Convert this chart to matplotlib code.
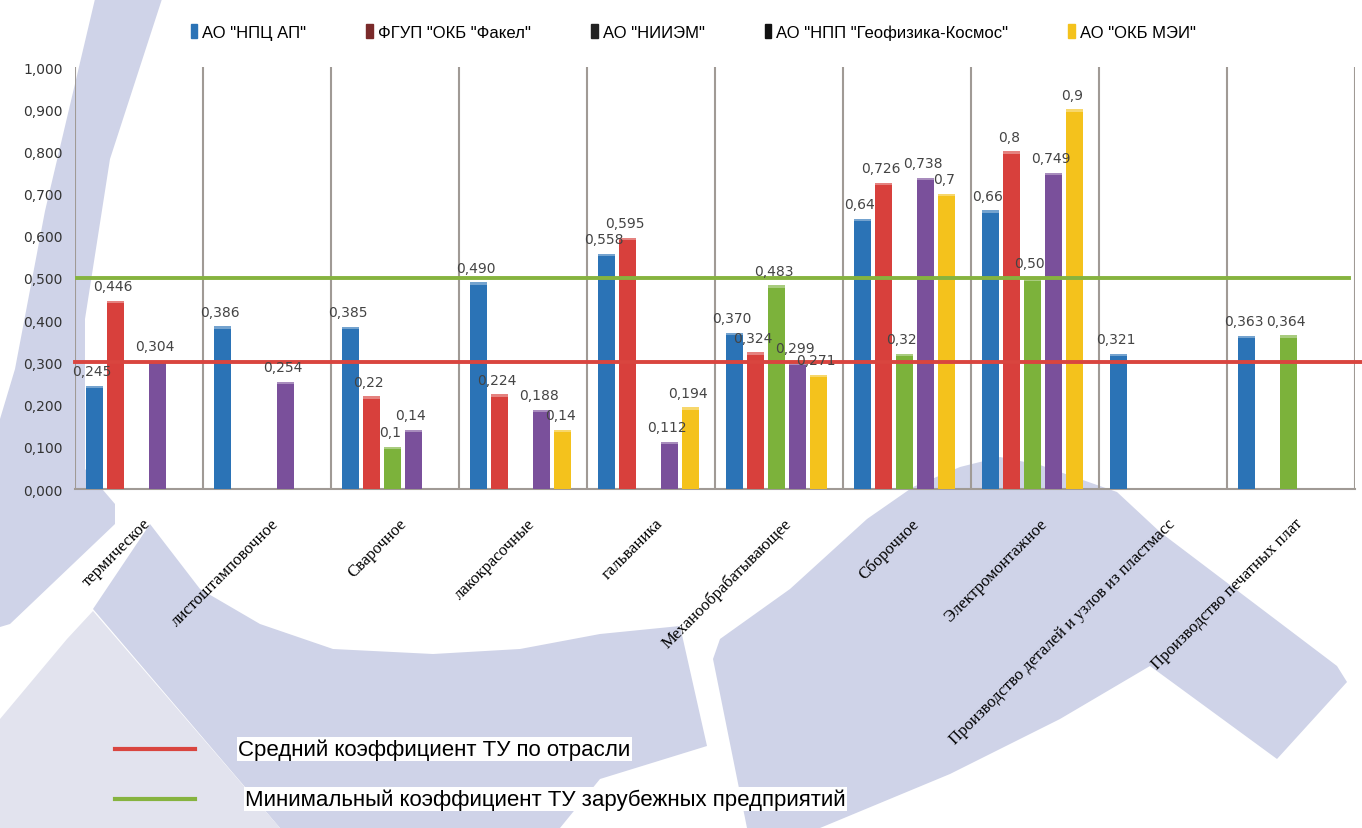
import numpy as np
import matplotlib.pyplot as plt
from matplotlib.patches import Polygon, Rectangle
from matplotlib.ticker import FuncFormatter
from matplotlib.lines import Line2D

# Категории (производства)
categories = ['термическое', 'листоштамповочное', 'Сварочное', 'лакокрасочные', 'гальваника',
              'Механообрабатывающее', 'Сборочное', 'Электромонтажное',
              'Производство деталей и узлов из пластмасс', 'Производство печатных плат']

companies = ['АО "НПЦ АП"', 'ФГУП "ОКБ "Факел"', 'АО "НИИЭМ"',
             'АО "НПП "Геофизика-Космос"', 'АО "ОКБ МЭИ"']
colors = ['#2b73b6', '#d8403c', '#7cb23b', '#7a509b', '#f4c21c']
legend_colors = ['#2b73b6', '#7a2a2a', '#222222', '#111111', '#f4c21c']

# Коэффициенты ТУ (None - нет данных)
npc_ap = [0.245, 0.386, 0.385, 0.490, 0.558, 0.370, 0.64, 0.66, 0.321, 0.363]
fakel = [0.446, None, 0.22, 0.224, 0.595, 0.324, 0.726, 0.8, None, None]
niiem = [None, None, 0.1, None, None, 0.483, 0.32, 0.50, None, 0.364]
geofizika = [0.304, 0.254, 0.14, 0.188, 0.112, 0.299, 0.738, 0.749, None, None]
okb_mei = [None, None, None, 0.14, 0.194, 0.271, 0.7, 0.9, None, None]

# Подписи значений в том виде, как на исходном рисунке
npc_ap_lbl = ['0,245', '0,386', '0,385', '0,490', '0,558', '0,370', '0,64', '0,66', '0,321', '0,363']
fakel_lbl = ['0,446', '', '0,22', '0,224', '0,595', '0,324', '0,726', '0,8', '', '']
niiem_lbl = ['', '', '0,1', '', '', '0,483', '0,32', '0,50', '', '0,364']
geofizika_lbl = ['0,304', '0,254', '0,14', '0,188', '0,112', '0,299', '0,738', '0,749', '', '']
okb_mei_lbl = ['', '', '', '0,14', '0,194', '0,271', '0,7', '0,9', '', '']

avg_level = 0.3   # средний коэффициент ТУ по отрасли
min_foreign = 0.5  # минимальный коэффициент ТУ зарубежных предприятий

series = [npc_ap, fakel, niiem, geofizika, okb_mei]
labels = [npc_ap_lbl, fakel_lbl, niiem_lbl, geofizika_lbl, okb_mei_lbl]

fig = plt.figure(figsize=(13.62, 8.29), dpi=100)

# светлый фоновый "водяной знак" (в пикселях картинки)
bg = fig.add_axes([0, 0, 1, 1], zorder=-5)
bg.set_xlim(0, 1362)
bg.set_ylim(829, 0)
bg.axis('off')
wm = '#cfd3e8'
shapes = [
    [(95, 0), (162, 0), (110, 160), (85, 320), (85, 470), (115, 505), (115, 525), (10, 625),
     (0, 628), (0, 420), (15, 370), (45, 212)],
    [(150, 525), (200, 590), (260, 625), (333, 650), (433, 655), (520, 650), (600, 635),
     (680, 627), (707, 747), (600, 780), (560, 829), (280, 829), (93, 610)],
    [(747, 829), (713, 660), (720, 640), (790, 590), (867, 520), (913, 488), (960, 468),
     (1000, 458), (1040, 466), (1117, 493), (1160, 533), (1337, 667), (1347, 683),
     (1277, 760), (1150, 667), (1060, 720), (950, 775), (820, 829)],
]
for pts in shapes:
    bg.add_patch(Polygon(pts, closed=True, facecolor=wm, edgecolor='none'))
bg.add_patch(Polygon([(67, 640), (0, 720), (0, 829), (280, 829), (93, 612)], closed=True,
                     facecolor='#e2e3ee', edgecolor='none'))

ax = fig.add_axes([75 / 1362, 1 - 490 / 829, 1280 / 1362, 422 / 829])
ax.set_facecolor('none')

n = len(categories)
x = np.arange(n)
step = 0.165
width = 0.135
offsets = (np.arange(5) - 2) * step - 0.02

for i, (vals, lbls) in enumerate(zip(series, labels)):
    for j, v in enumerate(vals):
        if v is None:
            continue
        xc = x[j] + offsets[i]
        ax.bar(xc, v, width=width, color=colors[i], zorder=3)
        ax.bar(xc, 0.006, bottom=v - 0.006, width=width, color='white', alpha=0.35, zorder=4)
        ax.text(xc - 0.02, v + 0.018, lbls[j], ha='center', va='bottom',
                fontsize=10, color='#444444', zorder=6)

ax.set_xlim(-0.5, n - 0.5)
ax.set_ylim(0, 1.0)

# вертикальные разделители категорий
for k in range(0, n + 1):
    ax.axvline(k - 0.5, color='#a09a95', lw=1.5, zorder=1)

ax.axhline(min_foreign, color='#86b33f', lw=2.8, xmax=0.995, zorder=5)
ax.axhline(avg_level, color='#d9453f', lw=2.8, xmax=1.006, clip_on=False, zorder=5)

ax.yaxis.set_major_locator(plt.MultipleLocator(0.1))
ax.yaxis.set_major_formatter(FuncFormatter(lambda v, p: f'{v:.3f}'.replace('.', ',')))
ax.tick_params(axis='y', length=0, labelsize=10, colors='#333333', pad=9)
ax.tick_params(axis='x', length=0)
for s in ['top', 'right', 'left']:
    ax.spines[s].set_visible(False)
ax.spines['bottom'].set_color('#a09a95')
ax.spines['bottom'].set_linewidth(1.5)

ax.set_xticks(x + 0.03)
ax.set_xticklabels(categories, rotation=45, ha='right', rotation_mode='anchor',
                   fontsize=12, family='Liberation Serif')
for lab in ax.get_xticklabels():
    lab.set_y(-0.05)

# легенда сверху
handles = [Rectangle((0, 0), 1, 1, color=c) for c in legend_colors]
fig.legend(handles, companies, loc='center', bbox_to_anchor=(0.509, 1 - 33 / 829), ncol=5,
           frameon=False, handlelength=0.4, handleheight=0.9,
           handletextpad=0.3, columnspacing=3.6, prop={'family': 'Liberation Sans', 'size': 12})

# легенда линий снизу
fig.add_artist(Line2D([115 / 1362, 195 / 1362], [1 - 750 / 829] * 2, color='#d9453f', lw=3))
fig.add_artist(Line2D([115 / 1362, 195 / 1362], [1 - 800 / 829] * 2, color='#86b33f', lw=3))
box = dict(facecolor='white', edgecolor='none', pad=1)
fig.text(238 / 1362, 1 - 750 / 829, 'Средний коэффициент ТУ по отрасли', va='center',
         fontsize=16, family='Liberation Sans', bbox=box)
fig.text(245 / 1362, 1 - 800 / 829, 'Минимальный коэффициент ТУ зарубежных предприятий',
         va='center', fontsize=16, family='Liberation Sans', bbox=box)

fig.savefig('out.png', dpi=100)
